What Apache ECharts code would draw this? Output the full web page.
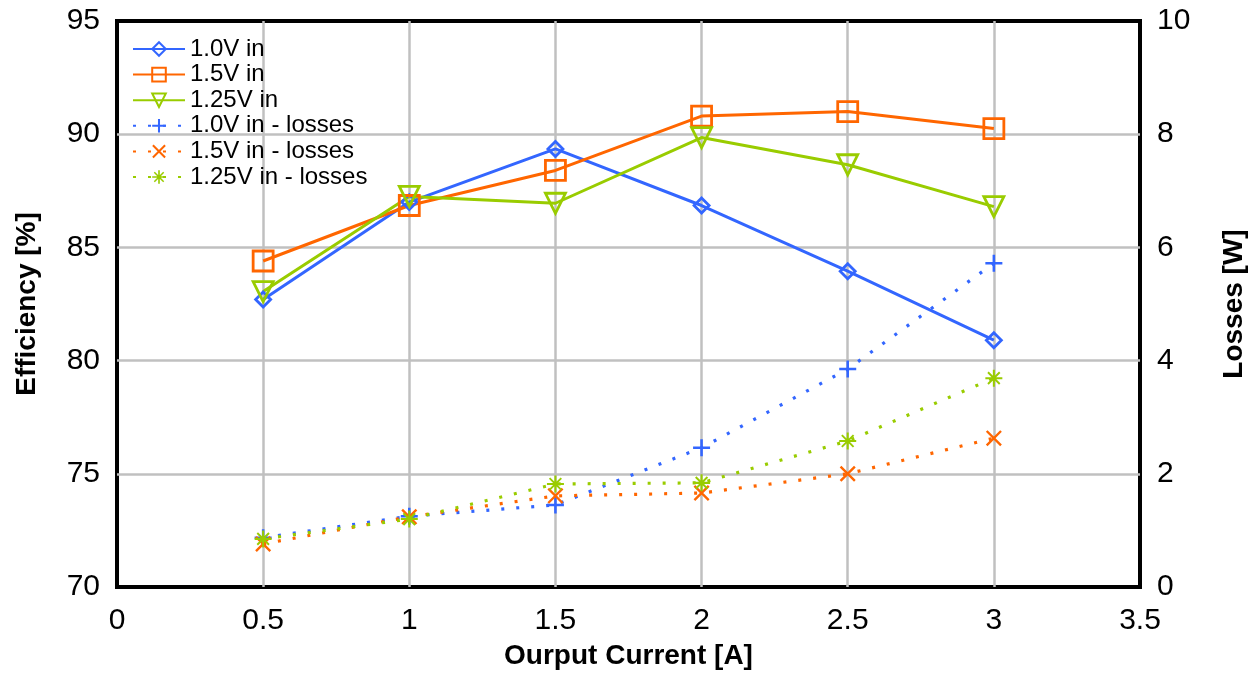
<!DOCTYPE html>
<html>
<head>
<meta charset="utf-8">
<script src="https://cdn.jsdelivr.net/npm/echarts@6/dist/echarts.min.js"></script>
<style>
  html, body { margin: 0; padding: 0; background: #fff; }
  #chart { width: 1256px; height: 675px; }
</style>
</head>
<body>
<div id="chart"></div>
<script>
// Output current [A]
const current = [0.5, 1, 1.5, 2, 2.5, 3];

// Efficiency [%]
const eff10 = [82.7, 87.0, 89.35, 86.85, 83.95, 80.9];
const eff15 = [84.4, 86.85, 88.4, 90.8, 91.0, 90.25];
const eff125 = [83.05, 87.25, 86.95, 89.85, 88.65, 86.8];

// Losses [W]
const loss10 = [0.87, 1.25, 1.45, 2.46, 3.85, 5.72];
const loss15 = [0.76, 1.24, 1.61, 1.66, 2.0, 2.63];
const loss125 = [0.85, 1.2, 1.82, 1.84, 2.58, 3.69];

const seriesNames = ['1.0V in', '1.5V in', '1.25V in',
  '1.0V in - losses', '1.5V in - losses', '1.25V in - losses'];

const BLUE = '#3366ff', ORANGE = '#ff6600', GREEN = '#99cc00';

// marker shapes built from filled bars
const PLUS = 'path://M8.5,0H11.5V20H8.5ZM0,8.5H20V11.5H0Z';
const CROSS = 'path://M0,2.1L2.1,0L20,17.9L17.9,20ZM17.9,0L20,2.1L2.1,20L0,17.9Z';
const STAR = 'path://M8.8,0H11.2V20H8.8ZM0,8.8H20V11.2H0Z' +
  'M2.3,3.9L3.9,2.3L17.7,16.1L16.1,17.7ZM16.1,2.3L17.7,3.9L3.9,17.7L2.3,16.1Z';

const pairs = arr => arr.map((v, i) => [current[i], v]);

function solid(name, data, color, symbol, size, rotate) {
  return {
    name, type: 'line', yAxisIndex: 0, data: pairs(data),
    symbol, symbolSize: size, symbolRotate: rotate || 0, showSymbol: true,
    lineStyle: { color, width: 3 },
    itemStyle: { color: 'rgba(255,255,255,0)', borderColor: color, borderWidth: 2.8 },
    z: 3
  };
}
function dotted(name, data, color, symbol, size) {
  return {
    name, type: 'line', yAxisIndex: 1, data: pairs(data),
    symbol, symbolSize: size, showSymbol: true,
    lineStyle: { color, width: 3.2, type: [3, 12], cap: 'butt' },
    itemStyle: { color, borderWidth: 0 },
    z: 2
  };
}

const axisLabelFont = { fontFamily: 'Liberation Sans', fontSize: 30, color: '#000' };
const nameFont = { fontFamily: 'Liberation Sans', fontSize: 28, fontWeight: 'bold', color: '#000' };
const gridLine = {
  show: true, showMinLine: false, showMaxLine: false,
  lineStyle: { color: '#c0c0c0', width: 2.5 }
};

const option = {
  animation: false,
  backgroundColor: '#fff',
  grid: {
    left: 117, right: 115, top: 21, bottom: 88,
    show: true, borderColor: '#000', borderWidth: 4, backgroundColor: 'transparent'
  },
  legend: {
    orient: 'vertical', left: 127, top: 32,
    itemWidth: 52, itemHeight: 17, itemGap: 1.6,
    data: seriesNames,
    textStyle: { fontFamily: 'Liberation Sans', fontSize: 24, color: '#000', lineHeight: 24 }
  },
  xAxis: {
    type: 'value', min: 0, max: 3.5, interval: 0.5,
    name: 'Ourput Current [A]', nameLocation: 'middle', nameGap: 55,
    nameTextStyle: nameFont,
    axisLine: { show: false }, axisTick: { show: false },
    axisLabel: Object.assign({ margin: 19 }, axisLabelFont),
    splitLine: gridLine
  },
  yAxis: [
    {
      type: 'value', min: 70, max: 95, interval: 5,
      name: 'Efficiency [%]', nameLocation: 'middle', nameGap: 76, nameRotate: 90,
      nameTextStyle: nameFont,
      axisLine: { show: false }, axisTick: { show: false },
      axisLabel: Object.assign({ margin: 17 }, axisLabelFont),
      splitLine: gridLine
    },
    {
      type: 'value', min: 0, max: 10, interval: 2, position: 'right',
      name: 'Losses [W]', nameLocation: 'middle', nameGap: 80, nameRotate: 90,
      nameTextStyle: nameFont,
      axisLine: { show: false }, axisTick: { show: false },
      axisLabel: Object.assign({ margin: 17 }, axisLabelFont),
      splitLine: { show: false }
    }
  ],
  series: [
    solid(seriesNames[0], eff10, BLUE, 'diamond', 15),
    solid(seriesNames[1], eff15, ORANGE, 'rect', 20),
    solid(seriesNames[2], eff125, GREEN, 'triangle', 20, 180),
    dotted(seriesNames[3], loss10, BLUE, PLUS, 17),
    dotted(seriesNames[4], loss15, ORANGE, CROSS, 16),
    dotted(seriesNames[5], loss125, GREEN, STAR, 17)
  ]
};

echarts.init(document.getElementById('chart')).setOption(option);
</script>
</body>
</html>
